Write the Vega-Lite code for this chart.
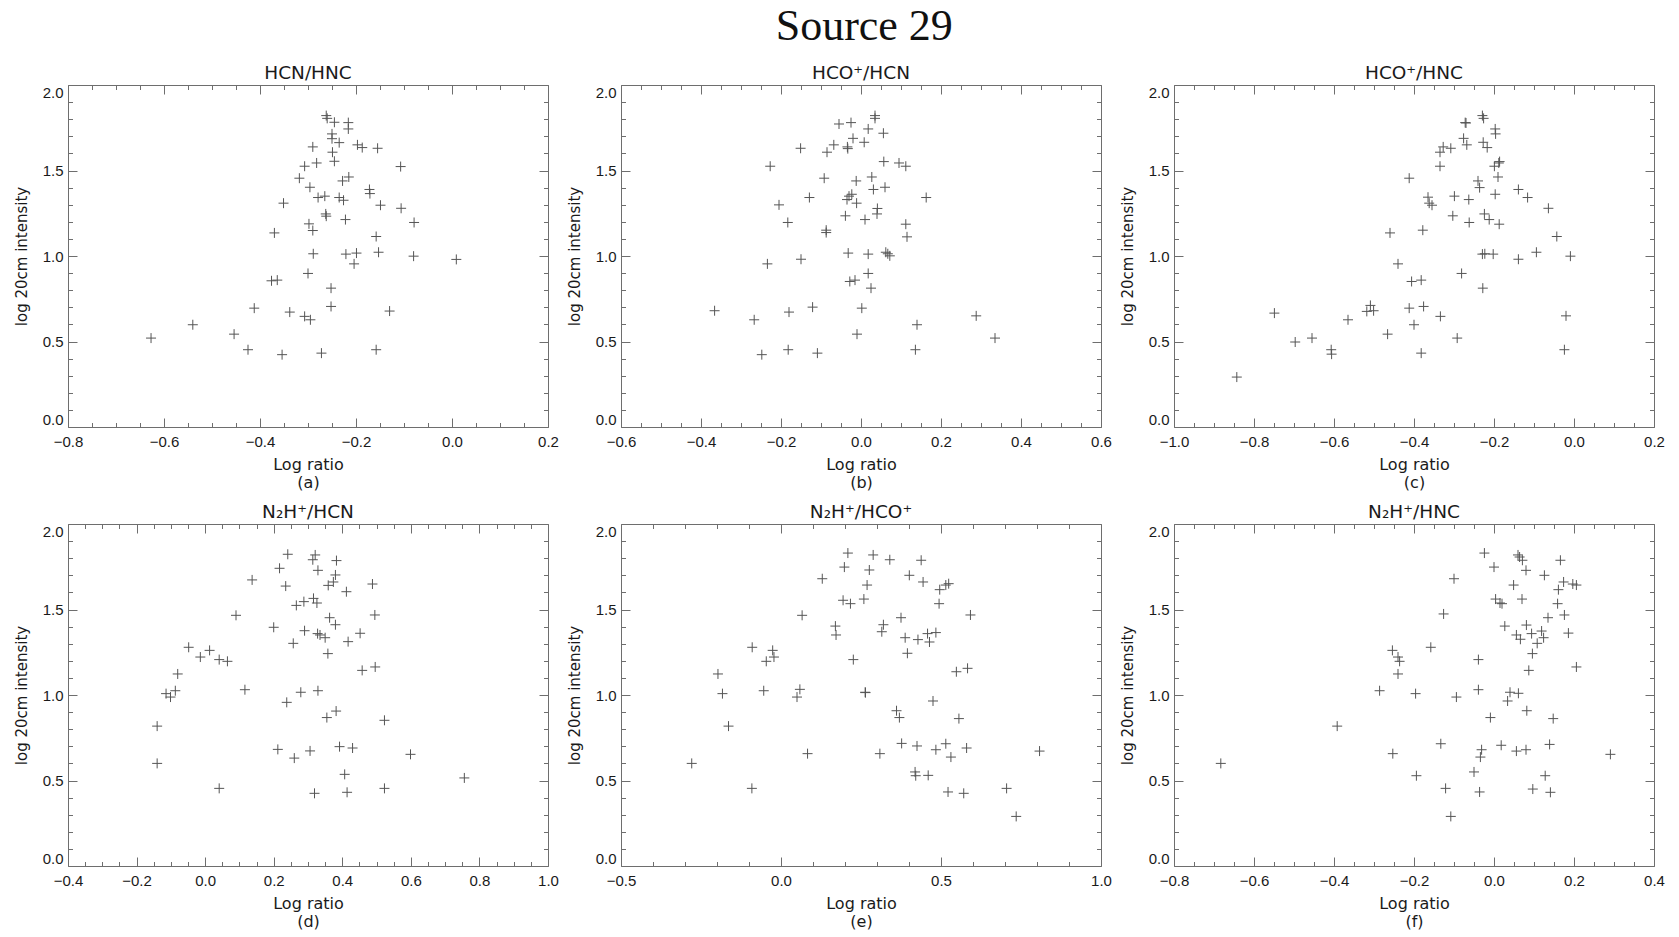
{
  "$schema": "https://vega.github.io/schema/vega-lite/v6.json",
  "background": "white",
  "padding": {"left": 13, "top": 4, "right": 5, "bottom": 5},
  "title": {"text": "Source 29", "font": "Liberation Serif", "fontSize": 44, "fontWeight": "normal", "color": "#111111", "anchor": "middle", "offset": 15, "dx": 25},
  "bounds": "flush",
  "columns": 3,
  "spacing": {"row": 97, "column": 73},
  "datasets": {
    "a": [{"x":-0.627,"y":0.52},{"x":-0.540,"y":0.598},{"x":-0.454,"y":0.543},{"x":-0.425,"y":0.452},{"x":-0.412,"y":0.695},{"x":-0.376,"y":0.855},{"x":-0.364,"y":0.859},{"x":-0.370,"y":1.135},{"x":-0.354,"y":0.423},{"x":-0.351,"y":1.309},{"x":-0.338,"y":0.672},{"x":-0.318,"y":1.455},{"x":-0.307,"y":1.525},{"x":-0.307,"y":0.647},{"x":-0.300,"y":0.898},{"x":-0.298,"y":1.188},{"x":-0.296,"y":1.402},{"x":-0.295,"y":0.627},{"x":-0.290,"y":1.638},{"x":-0.290,"y":1.149},{"x":-0.289,"y":1.013},{"x":-0.282,"y":1.544},{"x":-0.279,"y":1.342},{"x":-0.272,"y":0.432},{"x":-0.265,"y":1.350},{"x":-0.263,"y":1.246},{"x":-0.262,"y":1.233},{"x":-0.262,"y":1.821},{"x":-0.260,"y":1.805},{"x":-0.252,"y":0.812},{"x":-0.252,"y":0.705},{"x":-0.250,"y":1.714},{"x":-0.250,"y":1.686},{"x":-0.249,"y":1.607},{"x":-0.245,"y":1.554},{"x":-0.245,"y":1.782},{"x":-0.235,"y":1.663},{"x":-0.235,"y":1.342},{"x":-0.228,"y":1.439},{"x":-0.226,"y":1.326},{"x":-0.222,"y":1.213},{"x":-0.221,"y":1.011},{"x":-0.216,"y":1.780},{"x":-0.216,"y":1.743},{"x":-0.215,"y":1.462},{"x":-0.204,"y":0.954},{"x":-0.199,"y":1.017},{"x":-0.197,"y":1.650},{"x":-0.187,"y":1.634},{"x":-0.172,"y":1.389},{"x":-0.171,"y":1.365},{"x":-0.158,"y":1.114},{"x":-0.158,"y":0.452},{"x":-0.155,"y":1.630},{"x":-0.153,"y":1.022},{"x":-0.149,"y":1.297},{"x":-0.130,"y":0.678},{"x":-0.107,"y":1.523},{"x":-0.106,"y":1.279},{"x":-0.079,"y":1.196},{"x":-0.080,"y":0.999},{"x":0.009,"y":0.980}],
    "b": [{"x":-0.366,"y":0.680},{"x":-0.267,"y":0.627},{"x":-0.248,"y":0.423},{"x":-0.234,"y":0.954},{"x":-0.227,"y":1.525},{"x":-0.205,"y":1.299},{"x":-0.183,"y":1.196},{"x":-0.180,"y":0.672},{"x":-0.182,"y":0.452},{"x":-0.151,"y":1.630},{"x":-0.150,"y":0.981},{"x":-0.129,"y":1.342},{"x":-0.121,"y":0.701},{"x":-0.109,"y":0.432},{"x":-0.092,"y":1.455},{"x":-0.087,"y":1.151},{"x":-0.087,"y":1.137},{"x":-0.085,"y":1.607},{"x":-0.068,"y":1.650},{"x":-0.055,"y":1.772},{"x":-0.039,"y":1.235},{"x":-0.035,"y":1.330},{"x":-0.034,"y":1.638},{"x":-0.033,"y":1.628},{"x":-0.032,"y":1.017},{"x":-0.030,"y":1.350},{"x":-0.028,"y":0.851},{"x":-0.025,"y":1.780},{"x":-0.023,"y":1.361},{"x":-0.020,"y":1.688},{"x":-0.015,"y":0.859},{"x":-0.012,"y":1.439},{"x":-0.011,"y":1.309},{"x":-0.010,"y":0.543},{"x":0.002,"y":0.695},{"x":0.008,"y":1.665},{"x":0.010,"y":1.213},{"x":0.018,"y":1.743},{"x":0.018,"y":1.011},{"x":0.018,"y":0.898},{"x":0.025,"y":0.812},{"x":0.027,"y":1.462},{"x":0.031,"y":1.389},{"x":0.035,"y":1.821},{"x":0.035,"y":1.805},{"x":0.040,"y":1.246},{"x":0.041,"y":1.278},{"x":0.056,"y":1.718},{"x":0.057,"y":1.552},{"x":0.060,"y":1.402},{"x":0.062,"y":1.022},{"x":0.067,"y":1.013},{"x":0.072,"y":1.001},{"x":0.095,"y":1.544},{"x":0.112,"y":1.525},{"x":0.112,"y":1.186},{"x":0.115,"y":1.112},{"x":0.136,"y":0.452},{"x":0.140,"y":0.598},{"x":0.163,"y":1.342},{"x":0.288,"y":0.650},{"x":0.335,"y":0.520}],
    "c": [{"x":-0.843,"y":0.292},{"x":-0.749,"y":0.666},{"x":-0.697,"y":0.497},{"x":-0.655,"y":0.520},{"x":-0.607,"y":0.452},{"x":-0.606,"y":0.426},{"x":-0.565,"y":0.627},{"x":-0.518,"y":0.676},{"x":-0.509,"y":0.711},{"x":-0.501,"y":0.680},{"x":-0.466,"y":0.543},{"x":-0.460,"y":1.135},{"x":-0.440,"y":0.954},{"x":-0.412,"y":0.695},{"x":-0.412,"y":1.455},{"x":-0.406,"y":0.851},{"x":-0.400,"y":0.598},{"x":-0.382,"y":0.859},{"x":-0.382,"y":0.432},{"x":-0.378,"y":1.151},{"x":-0.376,"y":0.705},{"x":-0.365,"y":1.344},{"x":-0.362,"y":1.309},{"x":-0.355,"y":1.297},{"x":-0.335,"y":1.607},{"x":-0.335,"y":1.525},{"x":-0.334,"y":0.647},{"x":-0.327,"y":1.638},{"x":-0.308,"y":1.630},{"x":-0.303,"y":1.235},{"x":-0.299,"y":1.350},{"x":-0.292,"y":0.520},{"x":-0.281,"y":0.898},{"x":-0.276,"y":1.688},{"x":-0.272,"y":1.780},{"x":-0.270,"y":1.778},{"x":-0.268,"y":1.650},{"x":-0.263,"y":1.330},{"x":-0.262,"y":1.196},{"x":-0.240,"y":1.439},{"x":-0.236,"y":1.400},{"x":-0.229,"y":1.821},{"x":-0.226,"y":1.805},{"x":-0.229,"y":1.011},{"x":-0.228,"y":0.812},{"x":-0.227,"y":1.665},{"x":-0.224,"y":1.246},{"x":-0.223,"y":1.013},{"x":-0.217,"y":1.634},{"x":-0.212,"y":1.213},{"x":-0.202,"y":1.011},{"x":-0.199,"y":1.525},{"x":-0.197,"y":1.361},{"x":-0.197,"y":1.743},{"x":-0.196,"y":1.714},{"x":-0.190,"y":1.462},{"x":-0.188,"y":1.544},{"x":-0.186,"y":1.552},{"x":-0.187,"y":1.186},{"x":-0.139,"y":1.389},{"x":-0.139,"y":0.981},{"x":-0.116,"y":1.342},{"x":-0.094,"y":1.022},{"x":-0.064,"y":1.279},{"x":-0.043,"y":1.114},{"x":-0.024,"y":0.452},{"x":-0.020,"y":0.650},{"x":-0.009,"y":0.999}],
    "d": [{"x":-0.140,"y":0.600},{"x":-0.140,"y":0.818},{"x":-0.114,"y":1.008},{"x":-0.101,"y":0.988},{"x":-0.087,"y":1.025},{"x":-0.080,"y":1.123},{"x":-0.048,"y":1.279},{"x":-0.014,"y":1.222},{"x":0.013,"y":1.261},{"x":0.041,"y":1.207},{"x":0.041,"y":0.454},{"x":0.065,"y":1.197},{"x":0.090,"y":1.466},{"x":0.116,"y":1.031},{"x":0.137,"y":1.673},{"x":0.200,"y":1.396},{"x":0.212,"y":0.682},{"x":0.217,"y":1.741},{"x":0.235,"y":1.637},{"x":0.238,"y":0.957},{"x":0.241,"y":1.823},{"x":0.257,"y":1.302},{"x":0.260,"y":0.631},{"x":0.266,"y":1.524},{"x":0.279,"y":1.016},{"x":0.288,"y":1.546},{"x":0.290,"y":1.376},{"x":0.306,"y":0.673},{"x":0.314,"y":1.791},{"x":0.316,"y":1.565},{"x":0.319,"y":0.425},{"x":0.321,"y":1.819},{"x":0.326,"y":1.538},{"x":0.328,"y":1.359},{"x":0.329,"y":1.025},{"x":0.329,"y":1.729},{"x":0.335,"y":1.351},{"x":0.350,"y":1.335},{"x":0.355,"y":0.868},{"x":0.358,"y":1.242},{"x":0.359,"y":1.641},{"x":0.363,"y":1.452},{"x":0.374,"y":1.661},{"x":0.380,"y":1.702},{"x":0.380,"y":1.411},{"x":0.382,"y":0.906},{"x":0.383,"y":1.786},{"x":0.392,"y":0.698},{"x":0.407,"y":0.536},{"x":0.412,"y":1.604},{"x":0.414,"y":0.431},{"x":0.417,"y":1.312},{"x":0.430,"y":0.690},{"x":0.452,"y":1.361},{"x":0.458,"y":1.144},{"x":0.488,"y":1.649},{"x":0.495,"y":1.468},{"x":0.496,"y":1.164},{"x":0.523,"y":0.852},{"x":0.523,"y":0.454},{"x":0.599,"y":0.653},{"x":0.756,"y":0.515}],
    "e": [{"x":-0.279,"y":0.600},{"x":-0.197,"y":1.123},{"x":-0.183,"y":1.008},{"x":-0.164,"y":0.818},{"x":-0.090,"y":1.279},{"x":-0.091,"y":0.454},{"x":-0.054,"y":1.025},{"x":-0.046,"y":1.197},{"x":-0.026,"y":1.261},{"x":-0.022,"y":1.222},{"x":0.050,"y":0.988},{"x":0.059,"y":1.033},{"x":0.066,"y":1.466},{"x":0.083,"y":0.657},{"x":0.129,"y":1.680},{"x":0.170,"y":1.403},{"x":0.172,"y":1.351},{"x":0.194,"y":1.554},{"x":0.198,"y":1.748},{"x":0.209,"y":1.830},{"x":0.217,"y":1.534},{"x":0.226,"y":1.207},{"x":0.259,"y":1.561},{"x":0.263,"y":1.016},{"x":0.264,"y":1.014},{"x":0.269,"y":1.643},{"x":0.276,"y":1.731},{"x":0.288,"y":1.819},{"x":0.309,"y":0.657},{"x":0.315,"y":1.370},{"x":0.320,"y":1.411},{"x":0.340,"y":1.791},{"x":0.361,"y":0.908},{"x":0.370,"y":0.868},{"x":0.375,"y":1.452},{"x":0.377,"y":0.717},{"x":0.388,"y":1.335},{"x":0.395,"y":1.244},{"x":0.401,"y":1.700},{"x":0.419,"y":0.550},{"x":0.421,"y":0.528},{"x":0.425,"y":0.702},{"x":0.428,"y":1.324},{"x":0.438,"y":1.788},{"x":0.444,"y":1.661},{"x":0.458,"y":1.359},{"x":0.460,"y":0.530},{"x":0.464,"y":1.310},{"x":0.475,"y":0.965},{"x":0.484,"y":1.365},{"x":0.484,"y":0.680},{"x":0.494,"y":1.534},{"x":0.496,"y":1.616},{"x":0.515,"y":0.715},{"x":0.515,"y":1.643},{"x":0.524,"y":1.651},{"x":0.522,"y":0.433},{"x":0.531,"y":0.637},{"x":0.548,"y":1.136},{"x":0.556,"y":0.862},{"x":0.571,"y":0.425},{"x":0.580,"y":0.690},{"x":0.583,"y":1.156},{"x":0.592,"y":1.468},{"x":0.705,"y":0.454},{"x":0.735,"y":0.290},{"x":0.808,"y":0.672}],
    "f": [{"x":-0.683,"y":0.600},{"x":-0.392,"y":0.818},{"x":-0.286,"y":1.025},{"x":-0.254,"y":1.261},{"x":-0.253,"y":0.657},{"x":-0.240,"y":1.222},{"x":-0.240,"y":1.123},{"x":-0.236,"y":1.197},{"x":-0.196,"y":1.008},{"x":-0.194,"y":0.528},{"x":-0.158,"y":1.279},{"x":-0.133,"y":0.715},{"x":-0.126,"y":1.474},{"x":-0.121,"y":0.454},{"x":-0.108,"y":0.290},{"x":-0.100,"y":1.680},{"x":-0.094,"y":0.988},{"x":-0.050,"y":0.550},{"x":-0.039,"y":1.207},{"x":-0.039,"y":1.031},{"x":-0.036,"y":0.433},{"x":-0.034,"y":0.637},{"x":-0.031,"y":0.680},{"x":-0.024,"y":1.830},{"x":-0.009,"y":0.868},{"x":0.000,"y":1.748},{"x":0.004,"y":1.561},{"x":0.015,"y":1.538},{"x":0.018,"y":0.706},{"x":0.020,"y":1.534},{"x":0.027,"y":1.403},{"x":0.034,"y":0.965},{"x":0.040,"y":1.016},{"x":0.049,"y":1.643},{"x":0.056,"y":1.351},{"x":0.056,"y":0.672},{"x":0.060,"y":1.819},{"x":0.061,"y":1.010},{"x":0.064,"y":1.807},{"x":0.066,"y":1.326},{"x":0.070,"y":1.561},{"x":0.071,"y":1.788},{"x":0.080,"y":1.729},{"x":0.080,"y":0.680},{"x":0.082,"y":0.908},{"x":0.081,"y":1.409},{"x":0.087,"y":1.144},{"x":0.094,"y":1.359},{"x":0.096,"y":1.242},{"x":0.097,"y":0.450},{"x":0.108,"y":1.302},{"x":0.119,"y":1.374},{"x":0.124,"y":1.335},{"x":0.126,"y":1.700},{"x":0.128,"y":0.528},{"x":0.135,"y":1.452},{"x":0.139,"y":0.711},{"x":0.141,"y":0.431},{"x":0.148,"y":0.862},{"x":0.159,"y":1.534},{"x":0.161,"y":1.616},{"x":0.166,"y":1.788},{"x":0.174,"y":1.661},{"x":0.176,"y":1.468},{"x":0.186,"y":1.362},{"x":0.197,"y":1.649},{"x":0.206,"y":1.643},{"x":0.206,"y":1.164},{"x":0.291,"y":0.653}]
  },
  "concat": [
    {
      "width": 480, "height": 342,
      "title": "HCN/HNC",
      "data": {"name": "a"},
      "layer": [
        {"mark": {"type": "point", "shape": "M-1,0H1M0,-1V1", "filled": false, "color": "#555555", "strokeWidth": 1, "size": 100, "opacity": 1},
         "encoding": {
           "x": {"field": "x", "type": "quantitative", "scale": {"domain": [-0.8, 0.2], "nice": false, "zero": false},
                 "axis": {"orient": "bottom", "values": [-0.8,-0.75,-0.7,-0.65,-0.6,-0.55,-0.5,-0.45,-0.4,-0.35,-0.3,-0.25,-0.2,-0.15,-0.1,-0.05,0,0.05,0.1,0.15,0.2],
                          "tickSize": {"condition": {"test": "abs(datum.value*5-round(datum.value*5))<0.001", "value": -9}, "value": -4.5},
                          "labelExpr": "abs(datum.value*5-round(datum.value*5))<0.001 ? format(datum.value,'.1f') : ''",
                          "labelPadding": 16, "title": ["Log ratio", "(a)"], "titlePadding": 3, "titleLineHeight": 18}},
           "y": {"field": "y", "type": "quantitative", "scale": {"domain": [0, 2], "nice": false, "zero": false},
                 "axis": {"orient": "left", "values": [0,0.1,0.2,0.3,0.4,0.5,0.6,0.7,0.8,0.9,1,1.1,1.2,1.3,1.4,1.5,1.6,1.7,1.8,1.9,2],
                          "tickSize": {"condition": {"test": "abs(datum.value*2-round(datum.value*2))<0.001", "value": -9}, "value": -4.5},
                          "labelExpr": "abs(datum.value*2-round(datum.value*2))<0.001 ? format(datum.value,'.1f') : ''",
                          "labelPadding": 14, "labelFlush": true, "title": "log 20cm intensity", "titlePadding": 13}}
         }},
        {"mark": {"type": "point", "opacity": 0},
         "encoding": {
           "x": {"field": "x", "type": "quantitative", "scale": {"domain": [-0.8, 0.2], "nice": false, "zero": false},
                 "axis": {"orient": "top", "values": [-0.8,-0.75,-0.7,-0.65,-0.6,-0.55,-0.5,-0.45,-0.4,-0.35,-0.3,-0.25,-0.2,-0.15,-0.1,-0.05,0,0.05,0.1,0.15,0.2],
                          "tickSize": {"condition": {"test": "abs(datum.value*5-round(datum.value*5))<0.001", "value": -9}, "value": -4.5},
                          "labels": false, "title": null}},
           "y": {"field": "y", "type": "quantitative", "scale": {"domain": [0, 2], "nice": false, "zero": false},
                 "axis": {"orient": "right", "values": [0,0.1,0.2,0.3,0.4,0.5,0.6,0.7,0.8,0.9,1,1.1,1.2,1.3,1.4,1.5,1.6,1.7,1.8,1.9,2],
                          "tickSize": {"condition": {"test": "abs(datum.value*2-round(datum.value*2))<0.001", "value": -9}, "value": -4.5},
                          "labels": false, "title": null}}
         }}
      ],
      "resolve": {"axis": {"x": "independent", "y": "independent"}}
    },
    {
      "width": 480, "height": 342,
      "title": "HCO⁺/HCN",
      "data": {"name": "b"},
      "layer": [
        {"mark": {"type": "point", "shape": "M-1,0H1M0,-1V1", "filled": false, "color": "#555555", "strokeWidth": 1, "size": 100, "opacity": 1},
         "encoding": {
           "x": {"field": "x", "type": "quantitative", "scale": {"domain": [-0.6, 0.6], "nice": false, "zero": false},
                 "axis": {"orient": "bottom", "values": [-0.6,-0.55,-0.5,-0.45,-0.4,-0.35,-0.3,-0.25,-0.2,-0.15,-0.1,-0.05,0,0.05,0.1,0.15,0.2,0.25,0.3,0.35,0.4,0.45,0.5,0.55,0.6],
                          "tickSize": {"condition": {"test": "abs(datum.value*5-round(datum.value*5))<0.001", "value": -9}, "value": -4.5},
                          "labelExpr": "abs(datum.value*5-round(datum.value*5))<0.001 ? format(datum.value,'.1f') : ''",
                          "labelPadding": 16, "title": ["Log ratio", "(b)"], "titlePadding": 3, "titleLineHeight": 18}},
           "y": {"field": "y", "type": "quantitative", "scale": {"domain": [0, 2], "nice": false, "zero": false},
                 "axis": {"orient": "left", "values": [0,0.1,0.2,0.3,0.4,0.5,0.6,0.7,0.8,0.9,1,1.1,1.2,1.3,1.4,1.5,1.6,1.7,1.8,1.9,2],
                          "tickSize": {"condition": {"test": "abs(datum.value*2-round(datum.value*2))<0.001", "value": -9}, "value": -4.5},
                          "labelExpr": "abs(datum.value*2-round(datum.value*2))<0.001 ? format(datum.value,'.1f') : ''",
                          "labelPadding": 14, "labelFlush": true, "title": "log 20cm intensity", "titlePadding": 13}}
         }},
        {"mark": {"type": "point", "opacity": 0},
         "encoding": {
           "x": {"field": "x", "type": "quantitative", "scale": {"domain": [-0.6, 0.6], "nice": false, "zero": false},
                 "axis": {"orient": "top", "values": [-0.6,-0.55,-0.5,-0.45,-0.4,-0.35,-0.3,-0.25,-0.2,-0.15,-0.1,-0.05,0,0.05,0.1,0.15,0.2,0.25,0.3,0.35,0.4,0.45,0.5,0.55,0.6],
                          "tickSize": {"condition": {"test": "abs(datum.value*5-round(datum.value*5))<0.001", "value": -9}, "value": -4.5},
                          "labels": false, "title": null}},
           "y": {"field": "y", "type": "quantitative", "scale": {"domain": [0, 2], "nice": false, "zero": false},
                 "axis": {"orient": "right", "values": [0,0.1,0.2,0.3,0.4,0.5,0.6,0.7,0.8,0.9,1,1.1,1.2,1.3,1.4,1.5,1.6,1.7,1.8,1.9,2],
                          "tickSize": {"condition": {"test": "abs(datum.value*2-round(datum.value*2))<0.001", "value": -9}, "value": -4.5},
                          "labels": false, "title": null}}
         }}
      ],
      "resolve": {"axis": {"x": "independent", "y": "independent"}}
    },
    {
      "width": 480, "height": 342,
      "title": "HCO⁺/HNC",
      "data": {"name": "c"},
      "layer": [
        {"mark": {"type": "point", "shape": "M-1,0H1M0,-1V1", "filled": false, "color": "#555555", "strokeWidth": 1, "size": 100, "opacity": 1},
         "encoding": {
           "x": {"field": "x", "type": "quantitative", "scale": {"domain": [-1.0, 0.2], "nice": false, "zero": false},
                 "axis": {"orient": "bottom", "values": [-1,-0.95,-0.9,-0.85,-0.8,-0.75,-0.7,-0.65,-0.6,-0.55,-0.5,-0.45,-0.4,-0.35,-0.3,-0.25,-0.2,-0.15,-0.1,-0.05,0,0.05,0.1,0.15,0.2],
                          "tickSize": {"condition": {"test": "abs(datum.value*5-round(datum.value*5))<0.001", "value": -9}, "value": -4.5},
                          "labelExpr": "abs(datum.value*5-round(datum.value*5))<0.001 ? format(datum.value,'.1f') : ''",
                          "labelPadding": 16, "title": ["Log ratio", "(c)"], "titlePadding": 3, "titleLineHeight": 18}},
           "y": {"field": "y", "type": "quantitative", "scale": {"domain": [0, 2], "nice": false, "zero": false},
                 "axis": {"orient": "left", "values": [0,0.1,0.2,0.3,0.4,0.5,0.6,0.7,0.8,0.9,1,1.1,1.2,1.3,1.4,1.5,1.6,1.7,1.8,1.9,2],
                          "tickSize": {"condition": {"test": "abs(datum.value*2-round(datum.value*2))<0.001", "value": -9}, "value": -4.5},
                          "labelExpr": "abs(datum.value*2-round(datum.value*2))<0.001 ? format(datum.value,'.1f') : ''",
                          "labelPadding": 14, "labelFlush": true, "title": "log 20cm intensity", "titlePadding": 13}}
         }},
        {"mark": {"type": "point", "opacity": 0},
         "encoding": {
           "x": {"field": "x", "type": "quantitative", "scale": {"domain": [-1.0, 0.2], "nice": false, "zero": false},
                 "axis": {"orient": "top", "values": [-1,-0.95,-0.9,-0.85,-0.8,-0.75,-0.7,-0.65,-0.6,-0.55,-0.5,-0.45,-0.4,-0.35,-0.3,-0.25,-0.2,-0.15,-0.1,-0.05,0,0.05,0.1,0.15,0.2],
                          "tickSize": {"condition": {"test": "abs(datum.value*5-round(datum.value*5))<0.001", "value": -9}, "value": -4.5},
                          "labels": false, "title": null}},
           "y": {"field": "y", "type": "quantitative", "scale": {"domain": [0, 2], "nice": false, "zero": false},
                 "axis": {"orient": "right", "values": [0,0.1,0.2,0.3,0.4,0.5,0.6,0.7,0.8,0.9,1,1.1,1.2,1.3,1.4,1.5,1.6,1.7,1.8,1.9,2],
                          "tickSize": {"condition": {"test": "abs(datum.value*2-round(datum.value*2))<0.001", "value": -9}, "value": -4.5},
                          "labels": false, "title": null}}
         }}
      ],
      "resolve": {"axis": {"x": "independent", "y": "independent"}}
    },
    {
      "width": 480, "height": 342,
      "title": "N₂H⁺/HCN",
      "data": {"name": "d"},
      "layer": [
        {"mark": {"type": "point", "shape": "M-1,0H1M0,-1V1", "filled": false, "color": "#555555", "strokeWidth": 1, "size": 100, "opacity": 1},
         "encoding": {
           "x": {"field": "x", "type": "quantitative", "scale": {"domain": [-0.4, 1.0], "nice": false, "zero": false},
                 "axis": {"orient": "bottom", "values": [-0.4,-0.35,-0.3,-0.25,-0.2,-0.15,-0.1,-0.05,0,0.05,0.1,0.15,0.2,0.25,0.3,0.35,0.4,0.45,0.5,0.55,0.6,0.65,0.7,0.75,0.8,0.85,0.9,0.95,1],
                          "tickSize": {"condition": {"test": "abs(datum.value*5-round(datum.value*5))<0.001", "value": -9}, "value": -4.5},
                          "labelExpr": "abs(datum.value*5-round(datum.value*5))<0.001 ? format(datum.value,'.1f') : ''",
                          "labelPadding": 16, "title": ["Log ratio", "(d)"], "titlePadding": 3, "titleLineHeight": 18}},
           "y": {"field": "y", "type": "quantitative", "scale": {"domain": [0, 2], "nice": false, "zero": false},
                 "axis": {"orient": "left", "values": [0,0.1,0.2,0.3,0.4,0.5,0.6,0.7,0.8,0.9,1,1.1,1.2,1.3,1.4,1.5,1.6,1.7,1.8,1.9,2],
                          "tickSize": {"condition": {"test": "abs(datum.value*2-round(datum.value*2))<0.001", "value": -9}, "value": -4.5},
                          "labelExpr": "abs(datum.value*2-round(datum.value*2))<0.001 ? format(datum.value,'.1f') : ''",
                          "labelPadding": 14, "labelFlush": true, "title": "log 20cm intensity", "titlePadding": 13}}
         }},
        {"mark": {"type": "point", "opacity": 0},
         "encoding": {
           "x": {"field": "x", "type": "quantitative", "scale": {"domain": [-0.4, 1.0], "nice": false, "zero": false},
                 "axis": {"orient": "top", "values": [-0.4,-0.35,-0.3,-0.25,-0.2,-0.15,-0.1,-0.05,0,0.05,0.1,0.15,0.2,0.25,0.3,0.35,0.4,0.45,0.5,0.55,0.6,0.65,0.7,0.75,0.8,0.85,0.9,0.95,1],
                          "tickSize": {"condition": {"test": "abs(datum.value*5-round(datum.value*5))<0.001", "value": -9}, "value": -4.5},
                          "labels": false, "title": null}},
           "y": {"field": "y", "type": "quantitative", "scale": {"domain": [0, 2], "nice": false, "zero": false},
                 "axis": {"orient": "right", "values": [0,0.1,0.2,0.3,0.4,0.5,0.6,0.7,0.8,0.9,1,1.1,1.2,1.3,1.4,1.5,1.6,1.7,1.8,1.9,2],
                          "tickSize": {"condition": {"test": "abs(datum.value*2-round(datum.value*2))<0.001", "value": -9}, "value": -4.5},
                          "labels": false, "title": null}}
         }}
      ],
      "resolve": {"axis": {"x": "independent", "y": "independent"}}
    },
    {
      "width": 480, "height": 342,
      "title": "N₂H⁺/HCO⁺",
      "data": {"name": "e"},
      "layer": [
        {"mark": {"type": "point", "shape": "M-1,0H1M0,-1V1", "filled": false, "color": "#555555", "strokeWidth": 1, "size": 100, "opacity": 1},
         "encoding": {
           "x": {"field": "x", "type": "quantitative", "scale": {"domain": [-0.5, 1.0], "nice": false, "zero": false},
                 "axis": {"orient": "bottom", "values": [-0.5,-0.4,-0.3,-0.2,-0.1,0,0.1,0.2,0.3,0.4,0.5,0.6,0.7,0.8,0.9,1],
                          "tickSize": {"condition": {"test": "abs(datum.value*2-round(datum.value*2))<0.001", "value": -9}, "value": -4.5},
                          "labelExpr": "abs(datum.value*2-round(datum.value*2))<0.001 ? format(datum.value,'.1f') : ''",
                          "labelPadding": 16, "title": ["Log ratio", "(e)"], "titlePadding": 3, "titleLineHeight": 18}},
           "y": {"field": "y", "type": "quantitative", "scale": {"domain": [0, 2], "nice": false, "zero": false},
                 "axis": {"orient": "left", "values": [0,0.1,0.2,0.3,0.4,0.5,0.6,0.7,0.8,0.9,1,1.1,1.2,1.3,1.4,1.5,1.6,1.7,1.8,1.9,2],
                          "tickSize": {"condition": {"test": "abs(datum.value*2-round(datum.value*2))<0.001", "value": -9}, "value": -4.5},
                          "labelExpr": "abs(datum.value*2-round(datum.value*2))<0.001 ? format(datum.value,'.1f') : ''",
                          "labelPadding": 14, "labelFlush": true, "title": "log 20cm intensity", "titlePadding": 13}}
         }},
        {"mark": {"type": "point", "opacity": 0},
         "encoding": {
           "x": {"field": "x", "type": "quantitative", "scale": {"domain": [-0.5, 1.0], "nice": false, "zero": false},
                 "axis": {"orient": "top", "values": [-0.5,-0.4,-0.3,-0.2,-0.1,0,0.1,0.2,0.3,0.4,0.5,0.6,0.7,0.8,0.9,1],
                          "tickSize": {"condition": {"test": "abs(datum.value*2-round(datum.value*2))<0.001", "value": -9}, "value": -4.5},
                          "labels": false, "title": null}},
           "y": {"field": "y", "type": "quantitative", "scale": {"domain": [0, 2], "nice": false, "zero": false},
                 "axis": {"orient": "right", "values": [0,0.1,0.2,0.3,0.4,0.5,0.6,0.7,0.8,0.9,1,1.1,1.2,1.3,1.4,1.5,1.6,1.7,1.8,1.9,2],
                          "tickSize": {"condition": {"test": "abs(datum.value*2-round(datum.value*2))<0.001", "value": -9}, "value": -4.5},
                          "labels": false, "title": null}}
         }}
      ],
      "resolve": {"axis": {"x": "independent", "y": "independent"}}
    },
    {
      "width": 480, "height": 342,
      "title": "N₂H⁺/HNC",
      "data": {"name": "f"},
      "layer": [
        {"mark": {"type": "point", "shape": "M-1,0H1M0,-1V1", "filled": false, "color": "#555555", "strokeWidth": 1, "size": 100, "opacity": 1},
         "encoding": {
           "x": {"field": "x", "type": "quantitative", "scale": {"domain": [-0.8, 0.4], "nice": false, "zero": false},
                 "axis": {"orient": "bottom", "values": [-0.8,-0.75,-0.7,-0.65,-0.6,-0.55,-0.5,-0.45,-0.4,-0.35,-0.3,-0.25,-0.2,-0.15,-0.1,-0.05,0,0.05,0.1,0.15,0.2,0.25,0.3,0.35,0.4],
                          "tickSize": {"condition": {"test": "abs(datum.value*5-round(datum.value*5))<0.001", "value": -9}, "value": -4.5},
                          "labelExpr": "abs(datum.value*5-round(datum.value*5))<0.001 ? format(datum.value,'.1f') : ''",
                          "labelPadding": 16, "title": ["Log ratio", "(f)"], "titlePadding": 3, "titleLineHeight": 18}},
           "y": {"field": "y", "type": "quantitative", "scale": {"domain": [0, 2], "nice": false, "zero": false},
                 "axis": {"orient": "left", "values": [0,0.1,0.2,0.3,0.4,0.5,0.6,0.7,0.8,0.9,1,1.1,1.2,1.3,1.4,1.5,1.6,1.7,1.8,1.9,2],
                          "tickSize": {"condition": {"test": "abs(datum.value*2-round(datum.value*2))<0.001", "value": -9}, "value": -4.5},
                          "labelExpr": "abs(datum.value*2-round(datum.value*2))<0.001 ? format(datum.value,'.1f') : ''",
                          "labelPadding": 14, "labelFlush": true, "title": "log 20cm intensity", "titlePadding": 13}}
         }},
        {"mark": {"type": "point", "opacity": 0},
         "encoding": {
           "x": {"field": "x", "type": "quantitative", "scale": {"domain": [-0.8, 0.4], "nice": false, "zero": false},
                 "axis": {"orient": "top", "values": [-0.8,-0.75,-0.7,-0.65,-0.6,-0.55,-0.5,-0.45,-0.4,-0.35,-0.3,-0.25,-0.2,-0.15,-0.1,-0.05,0,0.05,0.1,0.15,0.2,0.25,0.3,0.35,0.4],
                          "tickSize": {"condition": {"test": "abs(datum.value*5-round(datum.value*5))<0.001", "value": -9}, "value": -4.5},
                          "labels": false, "title": null}},
           "y": {"field": "y", "type": "quantitative", "scale": {"domain": [0, 2], "nice": false, "zero": false},
                 "axis": {"orient": "right", "values": [0,0.1,0.2,0.3,0.4,0.5,0.6,0.7,0.8,0.9,1,1.1,1.2,1.3,1.4,1.5,1.6,1.7,1.8,1.9,2],
                          "tickSize": {"condition": {"test": "abs(datum.value*2-round(datum.value*2))<0.001", "value": -9}, "value": -4.5},
                          "labels": false, "title": null}}
         }}
      ],
      "resolve": {"axis": {"x": "independent", "y": "independent"}}
    }
  ],
  "config": {
    "view": {"stroke": "#6e6e6e", "strokeWidth": 1},
    "axis": {"domain": false, "grid": false, "tickColor": "#6e6e6e", "tickWidth": 1, "labelFont": "Liberation Sans", "labelFontSize": 15, "labelColor": "#1a1a1a", "titleFont": "DejaVu Sans", "titleFontSize": 15, "titleFontWeight": "normal", "titleColor": "#1a1a1a", "labelOverlap": false, "labelFlush": false, "labelBound": false},
    "axisX": {"titleFontSize": 16},
    "axisY": {"titleFontSize": 15},
    "title": {"font": "DejaVu Sans", "fontSize": 18.5, "fontWeight": "normal", "color": "#1a1a1a", "offset": 2}
  }
}
